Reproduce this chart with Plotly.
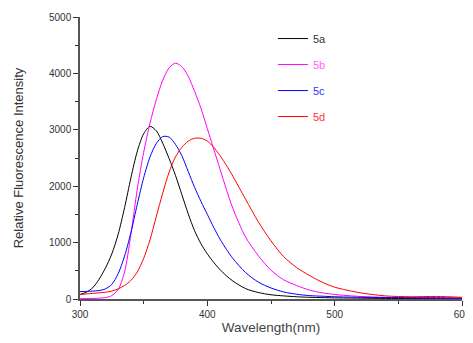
import plotly.graph_objects as go

wavelength = [300, 305, 310, 315, 320, 325, 330, 335, 340, 345, 350, 355, 360, 365, 370, 375,
              380, 385, 390, 395, 400, 405, 410, 415, 420, 430, 440, 450, 460, 470, 480, 490, 500,
              520, 540, 560, 580, 600]

s5a = [80, 120, 200, 350, 550, 800, 1150, 1620, 2150, 2620, 2930, 3060, 2980, 2760, 2490, 2190,
       1850, 1510, 1210, 980, 800, 650, 520, 410, 320, 185, 115, 75, 55, 40, 30, 25, 20,
       15, 10, 10, 10, 10]

s5b = [5, 8, 10, 15, 25, 60, 170, 480, 1150, 1950, 2600, 3120, 3540, 3880, 4100, 4180,
       4120, 3950, 3680, 3380, 3020, 2660, 2300, 1940, 1610, 1100, 770, 510, 340, 240, 160, 110, 80,
       45, 30, 25, 20, 15]

s5c = [130, 135, 140, 150, 180, 260, 450, 760, 1180, 1680, 2150, 2520, 2760, 2880, 2870, 2740,
       2540, 2260, 1980, 1730, 1500, 1270, 1060, 880, 720, 470, 300, 195, 125, 85, 60, 50, 40,
       30, 25, 20, 20, 15]

s5d = [80, 90, 100, 110, 120, 140, 180, 240, 330, 480, 720, 1050, 1470, 1880, 2250, 2520,
       2690, 2800, 2850, 2850, 2800, 2690, 2540, 2370, 2180, 1770, 1370, 1030, 750, 560, 420, 300, 210,
       110, 55, 40, 45, 30]

series = [
    ("5a", s5a, "#000000", "#333333"),
    ("5b", s5b, "#ff00ff", "#ff66ff"),
    ("5c", s5c, "#0000ff", "#3333ff"),
    ("5d", s5d, "#ff0000", "#ff3333"),
]

fig = go.Figure()
for name, vals, col, tcol in series:
    fig.add_trace(go.Scatter(
        x=wavelength, y=vals, mode="lines",
        name=f"<span style='color:{tcol}'>{name}</span>",
        legendgroup=name,
        line=dict(color=col, width=1, shape="spline", smoothing=0.8),
    ))

font_family = "Liberation Sans, Arial, sans-serif"
axis_common = dict(
    showgrid=False, zeroline=False, showline=True, linecolor="#555555", linewidth=1.5,
    ticks="outside", ticklen=5, tickcolor="#333333", tickwidth=1,
    tickfont=dict(family=font_family, size=10, color="#333333"),
    mirror=False,
)

fig.update_xaxes(
    range=[300, 600], dtick=100, tick0=300, **axis_common,
    minor=dict(ticks="outside", ticklen=3, dtick=50, tickcolor="#333333"),
    title=dict(text="Wavelength(nm)", standoff=4,
               font=dict(family=font_family, size=13.5, color="#444444")),
)
fig.update_yaxes(
    range=[0, 5000], dtick=1000, **axis_common,
    minor=dict(ticks="outside", ticklen=3, dtick=500, tickcolor="#333333"),
    title=dict(text="Relative Fluorescence Intensity", standoff=22,
               font=dict(family=font_family, size=13, color="#333333")),
)

fig.update_layout(
    width=465, height=335,
    margin=dict(l=72, r=11, t=9, b=44, autoexpand=False),
    paper_bgcolor="white", plot_bgcolor="white",
    showlegend=True,
    legend=dict(x=0.505, y=0.975, xanchor="left", yanchor="top",
                bgcolor="rgba(0,0,0,0)", tracegroupgap=7,
                font=dict(family=font_family, size=11)),
)

fig.write_html("out.html")
